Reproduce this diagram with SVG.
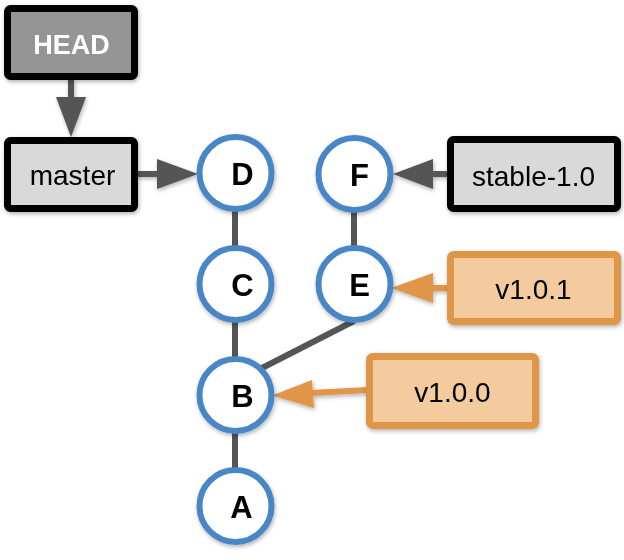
<svg xmlns="http://www.w3.org/2000/svg" width="624" height="560" viewBox="0 0 624 560">
<defs>
<filter id="sh" x="-20%" y="-20%" width="140%" height="140%">
<feDropShadow dx="1" dy="2" stdDeviation="2" flood-color="#000" flood-opacity="0.3"/>
</filter>
</defs>
<style>
.ref rect{stroke:#000;stroke-width:7}
.tag rect{fill:#f3cb9f;stroke:#df964a;stroke-width:7}
.commit circle{fill:#fff;stroke:#4a86c6;stroke-width:6}
.lbl{font-family:"Liberation Sans",Arial,sans-serif;font-size:28px;text-anchor:middle;fill:#000}
.cl{font-family:"Liberation Sans",Arial,sans-serif;font-size:31px;font-weight:bold;text-anchor:middle;fill:#000}
.edge{stroke:#555;stroke-width:6;fill:none}
.arr{fill:#555}
.oarr{fill:#df964a}
.oedge{stroke:#df964a;stroke-width:6;fill:none}
</style>
<rect width="624" height="560" fill="#fff"/>
<g id="connectors">
<line class="edge" x1="235" y1="211" x2="235" y2="248"/>
<line class="edge" x1="235" y1="320" x2="235" y2="358"/>
<line class="edge" x1="235" y1="432" x2="235" y2="470"/>
<line class="edge" x1="354" y1="211" x2="354" y2="248"/>
<line class="edge" x1="354" y1="321" x2="262" y2="368"/>
<g filter="url(#sh)">
<line class="edge" x1="71" y1="79" x2="71" y2="99" stroke-width="7"/>
<polygon class="arr" points="56,97 86,97 71,137"/>
<line class="edge" x1="136" y1="174" x2="159" y2="174" stroke-width="7"/>
<polygon class="arr" points="157,159 198,174 157,189"/>
<line class="edge" x1="449" y1="174" x2="431" y2="174" stroke-width="7"/>
<polygon class="arr" points="433,159 393,174 433,189"/>
<line class="oedge" x1="449" y1="288" x2="431" y2="288" stroke-width="7"/>
<polygon class="oarr" points="433,273 391,288 433,303"/>
<line class="oedge" x1="368" y1="390" x2="311" y2="393" stroke-width="7"/>
<polygon class="oarr" points="312,380 272,395.5 314,408"/>
</g>
</g>
<g id="HEAD" class="ref" filter="url(#sh)">
<rect x="7.5" y="8.5" width="127" height="68" rx="3" fill="#959595"/>
<text class="lbl" x="71.5" y="54" font-size="27" font-weight="bold" fill="#fff" style="fill:#fff;font-size:27px;font-weight:bold">HEAD</text>
</g>
<g id="master" class="ref" filter="url(#sh)">
<rect x="7.5" y="140.5" width="127" height="68" rx="3" fill="#d9d9d9"/>
<text class="lbl" x="72.5" y="185">master</text>
</g>
<g id="stable-1.0" class="ref" filter="url(#sh)">
<rect x="450.5" y="139.5" width="167" height="69" rx="3" fill="#d9d9d9"/>
<text class="lbl" x="533.5" y="186">stable-1.0</text>
</g>
<g id="v1.0.1" class="tag" filter="url(#sh)">
<rect x="450.5" y="254.5" width="167" height="67" rx="3"/>
<text class="lbl" x="533.5" y="299">v1.0.1</text>
</g>
<g id="v1.0.0" class="tag" filter="url(#sh)">
<rect x="369.5" y="356.5" width="166" height="69" rx="3"/>
<text class="lbl" x="452.5" y="402">v1.0.0</text>
</g>
<g id="D" class="commit" filter="url(#sh)">
<circle cx="235.5" cy="173" r="36"/>
<text class="cl" x="242.5" y="185">D</text>
</g>
<g id="C" class="commit" filter="url(#sh)">
<circle cx="235.5" cy="284" r="36"/>
<text class="cl" x="242.5" y="296">C</text>
</g>
<g id="B" class="commit" filter="url(#sh)">
<circle cx="235.5" cy="395" r="36"/>
<text class="cl" x="242.5" y="407">B</text>
</g>
<g id="A" class="commit" filter="url(#sh)">
<circle cx="235.5" cy="506" r="36"/>
<text class="cl" x="241.5" y="518">A</text>
</g>
<g id="F" class="commit" filter="url(#sh)">
<circle cx="354.5" cy="174" r="36"/>
<text class="cl" x="359.5" y="186">F</text>
</g>
<g id="E" class="commit" filter="url(#sh)">
<circle cx="354.5" cy="284" r="36"/>
<text class="cl" x="359.5" y="296">E</text>
</g>
</svg>
